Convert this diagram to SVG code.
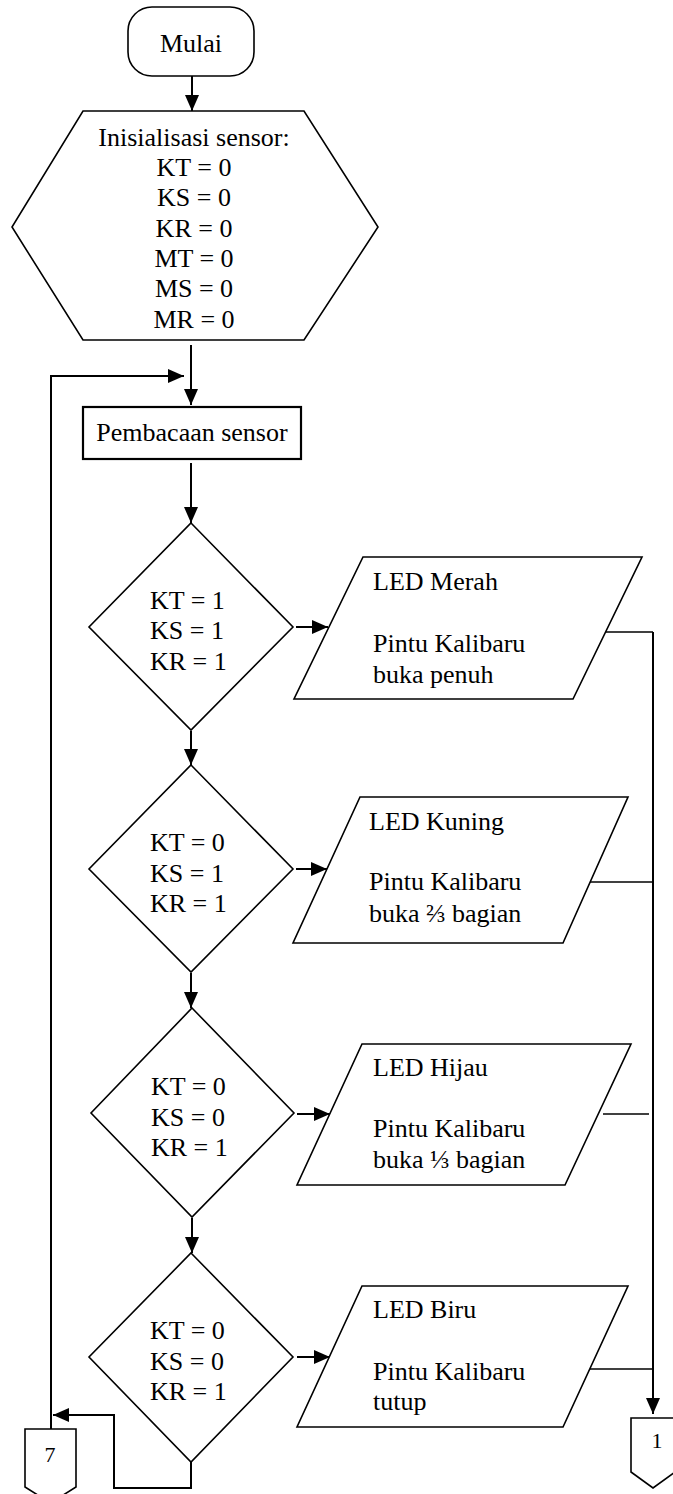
<svg xmlns="http://www.w3.org/2000/svg" width="673" height="1494" viewBox="0 0 673 1494" font-family="'Liberation Serif', 'Times New Roman', 'DejaVu Serif', serif">
  <style>
    .shape { fill: #fff; stroke: #000; stroke-width: 1.6; }
    .box { fill: #fff; stroke: #000; stroke-width: 2.2; }
    .line { fill: none; stroke: #000; stroke-width: 2; }
    .thin { fill: none; stroke: #000; stroke-width: 1.6; }
    text { font-family: 'Liberation Serif', 'Times New Roman', 'DejaVu Serif', serif; font-size: 26px; fill: #000; }
    .mid { text-anchor: middle; }
    .small { font-size: 22px; }
  </style>
  <defs>
    <marker id="arrow" markerUnits="userSpaceOnUse" markerWidth="16" markerHeight="14" refX="16" refY="7" orient="auto">
      <path d="M0,0 L16,7 L0,14 Z" fill="#000"/>
    </marker>
  </defs>

  <!-- connectors -->
  <g id="connectors">
    <line class="line" x1="192" y1="76" x2="192" y2="111" marker-end="url(#arrow)"/>
    <line class="line" x1="191" y1="345" x2="191" y2="405" marker-end="url(#arrow)"/>
    <polyline class="line" points="51,1429 51,376 184,376" marker-end="url(#arrow)"/>
    <line class="line" x1="191" y1="463" x2="191" y2="523" marker-end="url(#arrow)"/>
    <line class="line" x1="191" y1="731" x2="191" y2="765" marker-end="url(#arrow)"/>
    <line class="line" x1="191" y1="973" x2="191" y2="1008" marker-end="url(#arrow)"/>
    <line class="line" x1="192" y1="1218" x2="192" y2="1253" marker-end="url(#arrow)"/>
    <line class="line" x1="296" y1="627" x2="328" y2="627" marker-end="url(#arrow)"/>
    <line class="line" x1="296" y1="869" x2="327" y2="869" marker-end="url(#arrow)"/>
    <line class="line" x1="297" y1="1114" x2="330" y2="1114" marker-end="url(#arrow)"/>
    <line class="line" x1="297" y1="1357" x2="330" y2="1357" marker-end="url(#arrow)"/>
    <polyline class="line" points="191,1462 191,1488 114,1488 114,1415 53,1415" marker-end="url(#arrow)"/>
    <polyline class="thin" points="605,632 653,632"/>
    <line class="thin" x1="590" y1="882" x2="653" y2="882"/>
    <line class="thin" x1="603" y1="1114" x2="649" y2="1114"/>
    <line class="thin" x1="590" y1="1369" x2="653" y2="1369"/>
    <line class="line" x1="653" y1="632" x2="653" y2="1414" marker-end="url(#arrow)"/>
  </g>

  <!-- start terminal -->
  <g id="mulai">
    <rect class="shape" x="128" y="7" width="126" height="69" rx="24" ry="24"/>
    <text class="mid" x="191" y="52">Mulai</text>
  </g>

  <!-- sensor initialisation -->
  <g id="inisialisasi">
    <polygon class="shape" points="83,111 304,111 378,227 304,340 83,340 12,227"/>
    <text class="mid" x="194" y="145.5">Inisialisasi sensor:</text>
    <text class="mid" x="194" y="176">KT = 0</text>
    <text class="mid" x="194" y="206">KS = 0</text>
    <text class="mid" x="194" y="237">KR = 0</text>
    <text class="mid" x="194" y="267">MT = 0</text>
    <text class="mid" x="194" y="297">MS = 0</text>
    <text class="mid" x="194" y="328">MR = 0</text>
  </g>

  <!-- sensor reading -->
  <g id="pembacaan">
    <rect class="box" x="83" y="407" width="218" height="52"/>
    <text class="mid" x="192" y="441">Pembacaan sensor</text>
  </g>

  <!-- decisions -->
  <g id="cek1">
    <polygon class="shape" points="191,523 293,627 191,730 89,627"/>
    <text x="150" y="609">KT = 1</text>
    <text x="150" y="639">KS = 1</text>
    <text x="150" y="670">KR = 1</text>
  </g>
  <g id="cek2">
    <polygon class="shape" points="191,765 293,869 191,972 89,869"/>
    <text x="150" y="851">KT = 0</text>
    <text x="150" y="882">KS = 1</text>
    <text x="150" y="912">KR = 1</text>
  </g>
  <g id="cek3">
    <polygon class="shape" points="192,1008 294,1113 192,1217 91,1113"/>
    <text x="151" y="1095">KT = 0</text>
    <text x="151" y="1126">KS = 0</text>
    <text x="151" y="1156">KR = 1</text>
  </g>
  <g id="cek4">
    <polygon class="shape" points="191,1253 293,1357 191,1462 89,1357"/>
    <text x="150" y="1339">KT = 0</text>
    <text x="150" y="1370">KS = 0</text>
    <text x="150" y="1400">KR = 1</text>
  </g>

  <!-- outputs -->
  <g id="led-merah">
    <polygon class="shape" points="363,557 642,557 573,699 294,699"/>
    <text x="373" y="590">LED Merah</text>
    <text x="373" y="652">Pintu Kalibaru</text>
    <text x="373" y="683">buka penuh</text>
  </g>
  <g id="led-kuning">
    <polygon class="shape" points="360,797 628,797 563,943 293,943"/>
    <text x="369" y="830">LED Kuning</text>
    <text x="369" y="890">Pintu Kalibaru</text>
    <text x="369" y="922">buka ⅔ bagian</text>
  </g>
  <g id="led-hijau">
    <polygon class="shape" points="362,1044 631,1044 565,1185 297,1185"/>
    <text x="373" y="1076">LED Hijau</text>
    <text x="373" y="1137">Pintu Kalibaru</text>
    <text x="373" y="1168">buka ⅓ bagian</text>
  </g>
  <g id="led-biru">
    <polygon class="shape" points="362,1286 628,1286 563,1427 297,1427"/>
    <text x="373" y="1318">LED Biru</text>
    <text x="373" y="1380">Pintu Kalibaru</text>
    <text x="373" y="1410">tutup</text>
  </g>

  <!-- off-page connectors -->
  <g id="ke-7">
    <polygon class="shape" points="25,1429 76,1429 76,1487 50.5,1503 25,1487"/>
    <text class="mid small" x="50" y="1462">7</text>
  </g>
  <g id="ke-1">
    <polygon class="shape" points="631,1418 675,1418 675,1472 653,1488 631,1472"/>
    <text class="mid small" x="657" y="1448">1</text>
  </g>
</svg>
